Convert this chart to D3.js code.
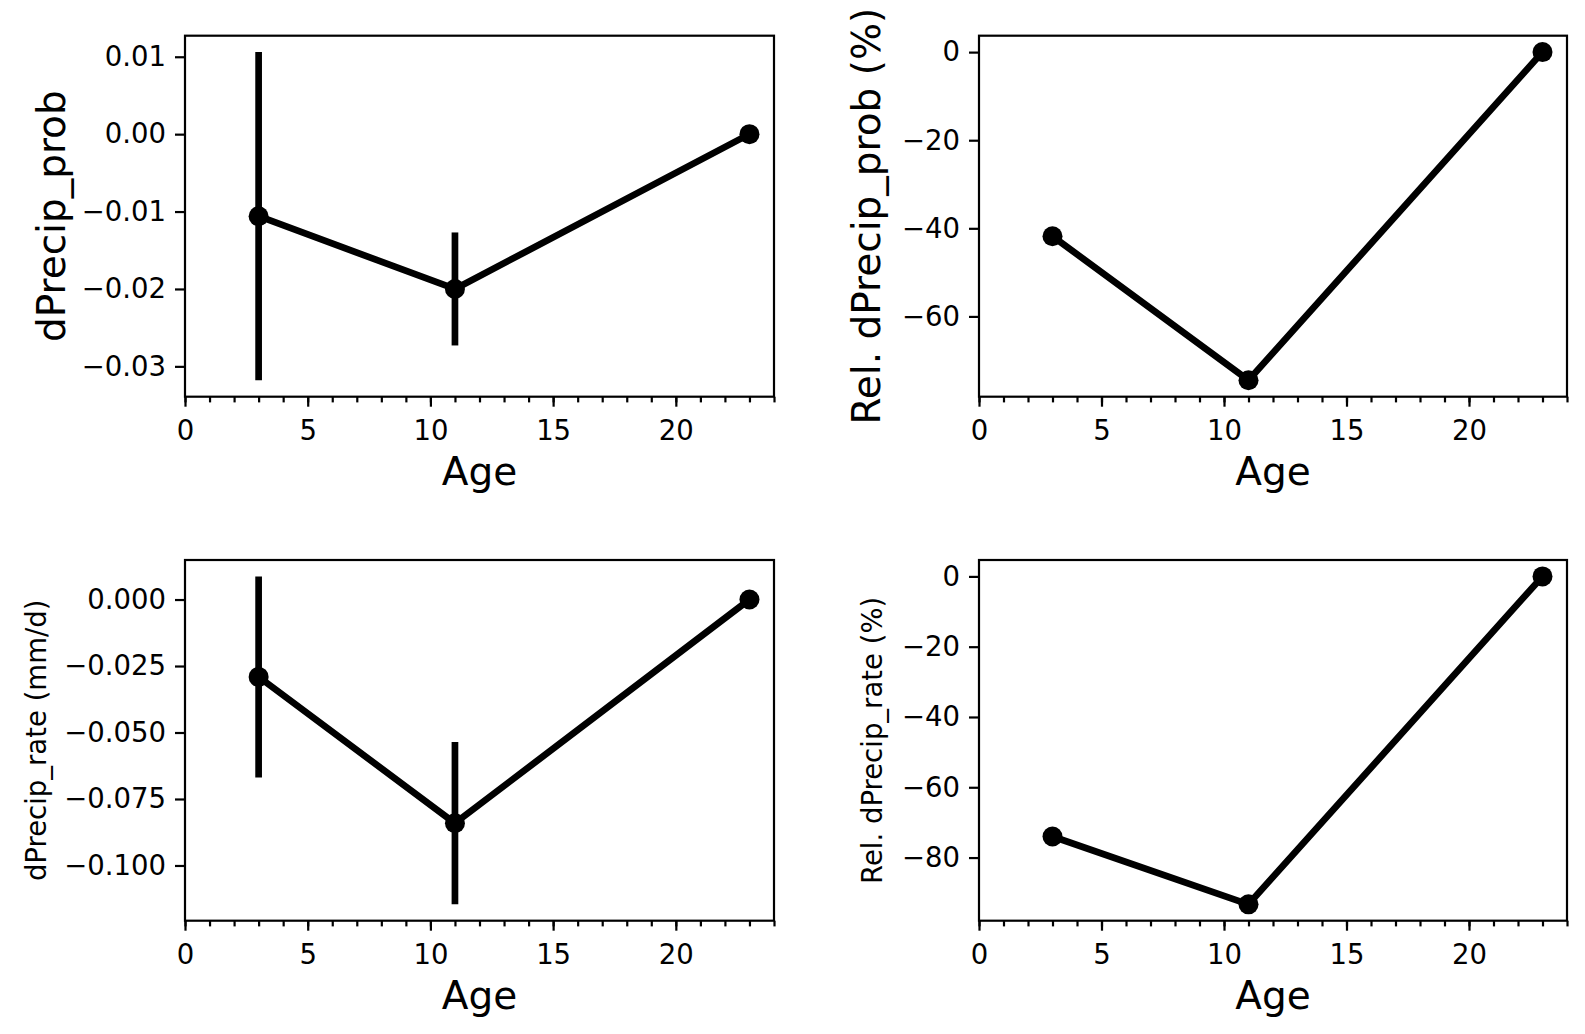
<!DOCTYPE html>
<html>
<head>
<meta charset="utf-8">
<script src="https://cdn.jsdelivr.net/npm/d3@7"></script>
<style>
  body { margin: 0; background: #fff; }
  svg { display: block; }
  text { font-family: "DejaVu Sans", sans-serif; fill: #000; }
</style>
</head>
<body>
<svg id="chart"></svg>
<script>
// values
var ages = [3, 11, 23];

var probDiff = [-0.0106, -0.0200, 0.0];
var probErr = [0.0212, 0.0073, 0];
var probRel = [-41.8, -74.5, 0];

var rateDiff = [-0.0291, -0.0841, 0.0];
var rateErr = [0.0378, 0.0305, 0];
var rateRel = [-74.0, -93.3, 0];

var xTicks = [0, 5, 10, 15, 20];
var xMinorTicks = d3.range(0, 25);
var probTicks = [0.01, 0.00, -0.01, -0.02, -0.03];
var probRelTicks = [0, -20, -40, -60];
var rateTicks = [0.000, -0.025, -0.050, -0.075, -0.100];
var rateRelTicks = [0, -20, -40, -60, -80];

var width = 1585;
var height = 1034;
var tickFont = "27.5px";

var svg = d3.select("#chart")
    .attr("width", width)
    .attr("height", height);

var cols = [[185, 774], [979, 1567]];
var rows = [[35.7, 396.7], [560, 920.7]];

function drawPanel(p) {
    var x0 = cols[p.col][0], x1 = cols[p.col][1];
    var y0 = rows[p.row][0], y1 = rows[p.row][1];
    var err = p.err || p.values.map(function () { return 0; });

    // matplotlib style 5% margins around the data extent
    var lo = d3.min(p.values, function (d, i) { return d - err[i]; });
    var hi = d3.max(p.values, function (d, i) { return d + err[i]; });
    var pad = (hi - lo) * 0.05;

    var x = d3.scaleLinear().domain([0, 24]).range([x0, x1]);
    var y = d3.scaleLinear().domain([lo - pad, hi + pad]).range([y1, y0]);

    var g = svg.append("g");

    // minor x ticks
    g.append("g")
        .attr("transform", "translate(0," + y1 + ")")
        .call(d3.axisBottom(x).tickValues(xMinorTicks).tickSize(5.7).tickSizeOuter(0).tickFormat(""))
        .call(function (s) { s.select(".domain").remove(); })
        .selectAll("line").attr("stroke-width", 2.2);

    var xAxis = g.append("g")
        .attr("transform", "translate(0," + y1 + ")")
        .call(d3.axisBottom(x).tickValues(xTicks).tickSize(10).tickPadding(14).tickSizeOuter(0));
    xAxis.select(".domain").remove();
    xAxis.selectAll("line").attr("stroke-width", 2.2);
    xAxis.selectAll("text").style("font-size", tickFont).style("font-family", "DejaVu Sans");

    var yAxis = g.append("g")
        .attr("transform", "translate(" + x0 + ",0)")
        .call(d3.axisLeft(y).tickValues(p.ticks).tickSize(10).tickPadding(9)
            .tickSizeOuter(0).tickFormat(d3.format(p.fmt)));
    yAxis.select(".domain").remove();
    yAxis.selectAll("line").attr("stroke-width", 2.2);
    yAxis.selectAll("text").style("font-size", tickFont).style("font-family", "DejaVu Sans");

    // frame
    g.append("rect")
        .attr("x", x0)
        .attr("y", y0)
        .attr("width", x1 - x0)
        .attr("height", y1 - y0)
        .attr("fill", "none")
        .attr("stroke", "#000")
        .attr("stroke-width", 2.2);

    var pts = ages.map(function (a, i) { return {age: a, v: p.values[i], e: err[i]}; });

    var line = d3.line()
        .x(function (d) { return x(d.age); })
        .y(function (d) { return y(d.v); });

    g.append("path")
        .datum(pts)
        .attr("d", line)
        .attr("fill", "none")
        .attr("stroke", "#000")
        .attr("stroke-width", 6.7)
        .attr("stroke-linejoin", "round");

    g.selectAll(".err")
        .data(pts.filter(function (d) { return d.e > 0; }))
        .enter()
        .append("line")
        .attr("x1", function (d) { return x(d.age); })
        .attr("x2", function (d) { return x(d.age); })
        .attr("y1", function (d) { return y(d.v - d.e); })
        .attr("y2", function (d) { return y(d.v + d.e); })
        .attr("stroke", "#000")
        .attr("stroke-width", 6.7);

    g.selectAll(".dot")
        .data(pts)
        .enter()
        .append("circle")
        .attr("cx", function (d) { return x(d.age); })
        .attr("cy", function (d) { return y(d.v); })
        .attr("r", 10)
        .attr("fill", "#000");

    g.append("text")
        .attr("x", (x0 + x1) / 2)
        .attr("y", y1 + 88)
        .attr("text-anchor", "middle")
        .style("font-size", "39px")
        .text("Age");

    g.append("text")
        .attr("transform", "translate(" + p.labelX + "," + (y0 + y1) / 2 + ")rotate(-90)")
        .attr("text-anchor", "middle")
        .style("font-size", p.labelSize + "px")
        .text(p.label);
}

drawPanel({row: 0, col: 0, values: probDiff, err: probErr, ticks: probTicks, fmt: ".2f",
    label: "dPrecip_prob", labelSize: 39, labelX: 65});
drawPanel({row: 0, col: 1, values: probRel, ticks: probRelTicks, fmt: "d",
    label: "Rel. dPrecip_prob (%)", labelSize: 39, labelX: 880});
drawPanel({row: 1, col: 0, values: rateDiff, err: rateErr, ticks: rateTicks, fmt: ".3f",
    label: "dPrecip_rate (mm/d)", labelSize: 27.5, labelX: 46});
drawPanel({row: 1, col: 1, values: rateRel, ticks: rateRelTicks, fmt: "d",
    label: "Rel. dPrecip_rate (%)", labelSize: 27.5, labelX: 882});
</script>
</body>
</html>
